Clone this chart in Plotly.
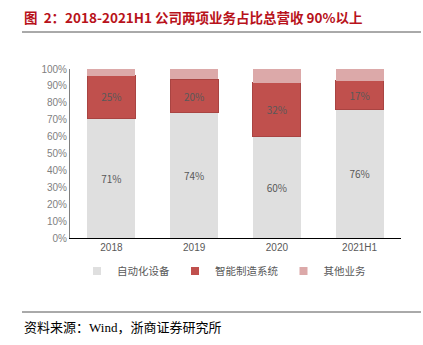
import plotly.graph_objects as go

categories = ["2018", "2019", "2020", "2021H1"]
automation = [71, 74, 60, 76]
smart_mfg = [25, 20, 32, 17]
others = [4, 6, 8, 7]
series_names = ["自动化设备", "智能制造系统", "其他业务"]
series_colors = ["#dfdfdf", "#c0504d", "#dca9a9"]
tick_vals = [0, 10, 20, 30, 40, 50, 60, 70, 80, 90, 100]
tick_text = [f"{v}%" for v in tick_vals]

L, R, T, B = 70, 401, 69, 238
W, H = 423, 345
def px(p):
    return (p - L) / (R - L)
def py(q):
    return (B - q) / (B - T)

fig = go.Figure()
fig.add_trace(go.Bar(x=categories, y=automation, name=series_names[0], showlegend=False,
                     marker=dict(color=series_colors[0], line=dict(width=0)),
                     text=[f"{v}%" for v in automation], textposition="inside",
                     insidetextanchor="middle",
                     textfont=dict(color="#595959", size=10)))
fig.add_trace(go.Bar(x=categories, y=smart_mfg, name=series_names[1], showlegend=False,
                     marker=dict(color=series_colors[1], line=dict(color="#a94442", width=1)),
                     text=[f"{v}%" for v in smart_mfg], textposition="inside",
                     insidetextanchor="middle",
                     textfont=dict(color="#595959", size=10)))
fig.add_trace(go.Bar(x=categories, y=others, name=series_names[2], showlegend=False,
                     marker=dict(color=series_colors[2], line=dict(width=0))))
# legend entries with small square symbols
for name, color in zip(series_names, series_colors):
    fig.add_trace(go.Scatter(x=[None], y=[None], mode="markers", name=name,
                             marker=dict(symbol="square", size=8, color=color,
                                         line=dict(width=0))))

fig.update_layout(
    barmode="stack", bargap=0.42,
    width=W, height=H,
    margin=dict(l=L, r=W - R, t=T, b=H - B),
    paper_bgcolor="white", plot_bgcolor="white",
    font=dict(family="Noto Sans CJK SC, Arial", color="#595959", size=10),
    showlegend=True,
    legend=dict(orientation="h", x=px(224), xanchor="center", y=py(271), yanchor="middle",
                font=dict(size=10.5, color="#595959"), itemwidth=30, traceorder="normal",
                tracegroupgap=0),
    uniformtext=dict(mode="show", minsize=9),
)
fig.update_yaxes(range=[0, 100], tickvals=tick_vals, ticktext=tick_text,
                 showgrid=False, showline=True, linecolor="#7f7f7f", linewidth=1,
                 ticks="", tickfont=dict(family="Liberation Sans, Arial", size=10, color="#7f7f7f"),
                 zeroline=False)
fig.update_xaxes(showline=True, linecolor="#000000", linewidth=1, ticks="",
                 tickfont=dict(family="Liberation Sans, Arial", size=10, color="#595959"))

fig.add_annotation(text="<b>图  2：2018-2021H1 公司两项业务占比总营收 90%以上</b>",
                   xref="paper", yref="paper", x=px(22), y=py(17), xanchor="left", yanchor="middle",
                   showarrow=False, font=dict(family="Noto Sans CJK SC", size=13.5, color="#b8121b"))
fig.add_shape(type="line", xref="paper", yref="paper", x0=px(22), x1=px(421), y0=py(32), y1=py(32),
              line=dict(color="#555555", width=1))
fig.add_shape(type="line", xref="paper", yref="paper", x0=px(22), x1=px(421), y0=py(312), y1=py(312),
              line=dict(color="#555555", width=1))
fig.add_annotation(text="资料来源：<span style='font-family:Liberation Serif'>Wind</span>，浙商证券研究所",
                   xref="paper", yref="paper", x=px(22), y=py(326), xanchor="left", yanchor="middle",
                   showarrow=False, font=dict(family="Noto Sans CJK SC", size=13, color="#000000"))

fig.write_html("out.html")
